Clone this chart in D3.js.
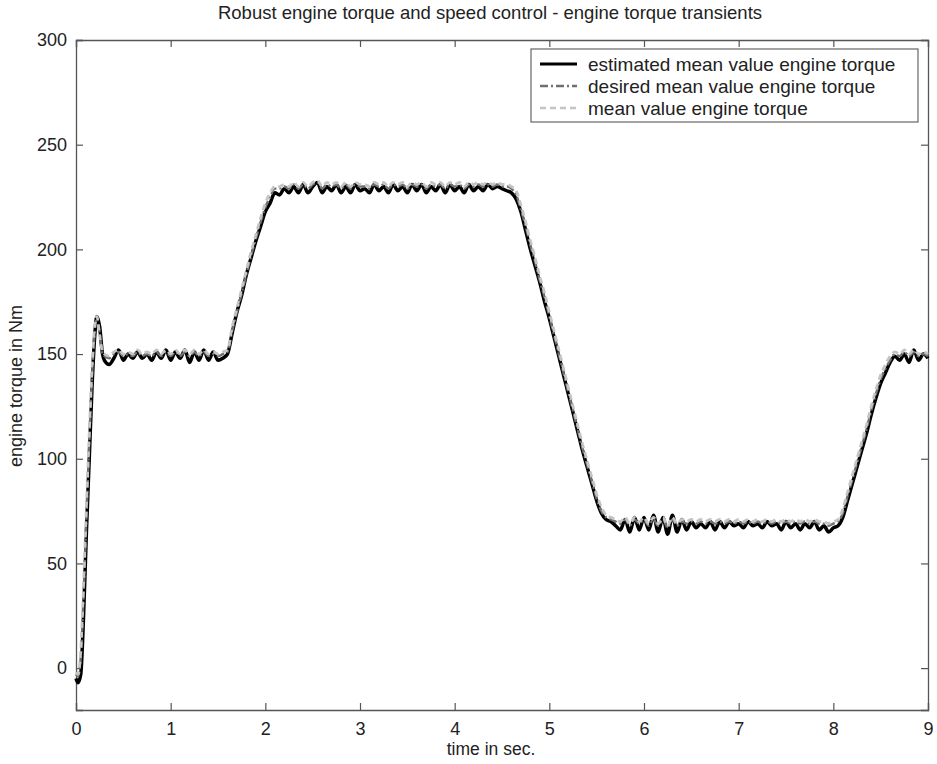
<!DOCTYPE html>
<html>
<head>
<meta charset="utf-8">
<script src="https://cdn.jsdelivr.net/npm/d3@7"></script>
<style>
  body { margin: 0; background: #fff; }
  svg text { font-family: "Liberation Sans", Arial, sans-serif; fill: #222; }
</style>
</head>
<body>
<div id="chart"></div>
<script>
// sample times (s)
var time = [0, 0.02, 0.05, 0.08, 0.11, 0.14, 0.17, 0.2, 0.22, 0.25, 0.28, 0.3, 0.35,
  0.4, 0.45, 0.5, 0.55, 0.6, 0.65, 0.7, 0.75, 0.8, 0.85, 0.9, 0.95,
  1, 1.05, 1.1, 1.15, 1.2, 1.25, 1.3, 1.35, 1.4, 1.45, 1.5, 1.55, 1.6, 1.65, 1.7, 1.75, 1.8, 1.85, 1.9, 1.95,
  2, 2.05, 2.1, 2.15, 2.2, 2.25, 2.3, 2.35, 2.4, 2.45, 2.5, 2.55, 2.6, 2.65, 2.7, 2.75, 2.8, 2.85, 2.9, 2.95,
  3, 3.05, 3.1, 3.15, 3.2, 3.25, 3.3, 3.35, 3.4, 3.45, 3.5, 3.55, 3.6, 3.65, 3.7, 3.75, 3.8, 3.85, 3.9, 3.95,
  4, 4.05, 4.1, 4.15, 4.2, 4.25, 4.3, 4.35, 4.4, 4.45, 4.5, 4.55, 4.6, 4.65, 4.7, 4.75, 4.8, 4.85, 4.9, 4.95,
  5, 5.05, 5.1, 5.15, 5.2, 5.25, 5.3, 5.35, 5.4, 5.45, 5.5, 5.55, 5.6, 5.65, 5.7, 5.75, 5.8, 5.85, 5.9, 5.95,
  6, 6.05, 6.1, 6.15, 6.2, 6.25, 6.3, 6.35, 6.4, 6.45, 6.5, 6.55, 6.6, 6.65, 6.7, 6.75, 6.8, 6.85, 6.9, 6.95,
  7, 7.05, 7.1, 7.15, 7.2, 7.25, 7.3, 7.35, 7.4, 7.45, 7.5, 7.55, 7.6, 7.65, 7.7, 7.75, 7.8, 7.85, 7.9, 7.95,
  8, 8.05, 8.1, 8.15, 8.2, 8.25, 8.3, 8.35, 8.4, 8.45, 8.5, 8.55, 8.6, 8.65, 8.7, 8.75, 8.8, 8.85, 8.9, 8.95,
  9];

// estimated mean value engine torque (Nm)
var estimated = [-5, -7, -3, 25, 65, 100, 135, 160, 168, 163, 150, 147, 145,
  148, 152, 147, 150, 148, 151, 148, 150, 147, 151, 148, 152,
  147, 151, 148, 152, 146, 151, 147, 152, 147, 151, 147, 148, 150, 160, 170, 178, 188, 196, 204, 211,
  218, 222, 227, 226, 229, 227, 230, 227, 231, 227, 230, 232, 227, 230, 228, 231, 227, 230, 227, 231,
  228, 229, 227, 231, 228, 230, 227, 231, 228, 230, 227, 231, 228, 231, 227, 230, 228, 231, 227, 231,
  228, 230, 227, 231, 228, 230, 228, 231, 229, 230, 229, 228, 227, 224, 218, 209, 200, 192, 184, 175,
  167, 158, 149, 140, 131, 122, 113, 104, 96, 88, 80, 74, 71, 70, 68, 66, 71, 65, 72, 66,
  72, 66, 73, 65, 72, 64, 73, 65, 71, 66, 70, 67, 69, 67, 70, 66, 70, 67, 70, 68,
  69, 67, 70, 68, 69, 67, 70, 68, 69, 66, 70, 67, 69, 66, 69, 67, 70, 66, 68, 65,
  67, 68, 72, 80, 88, 96, 104, 112, 121, 129, 136, 141, 146, 149, 147, 150, 146, 152, 147, 150,
  148];

// desired mean value engine torque (Nm)
var desired = [-3, -4, 5, 35, 72, 108, 140, 162, 167, 160, 150, 149, 148,
  150, 151, 149, 150, 149, 151, 149, 150, 149, 151, 149, 151,
  149, 151, 149, 151, 149, 151, 149, 151, 149, 150, 149, 150, 151, 161, 170, 179, 188, 197, 205, 213,
  220, 225, 229, 229, 230, 229, 231, 229, 231, 229, 231, 232, 229, 231, 230, 231, 229, 231, 229, 231,
  230, 230, 229, 231, 230, 231, 229, 231, 230, 231, 229, 231, 230, 231, 229, 231, 230, 231, 229, 231,
  230, 231, 229, 231, 230, 231, 230, 231, 230, 231, 230, 230, 229, 226, 219, 211, 202, 194, 185, 177,
  168, 159, 150, 141, 132, 123, 114, 105, 97, 89, 81, 75, 72, 71, 70, 69, 71, 68, 71, 69,
  71, 68, 71, 68, 71, 67, 71, 68, 70, 69, 70, 69, 70, 69, 70, 69, 70, 69, 70, 69,
  70, 69, 70, 69, 70, 69, 70, 69, 70, 69, 70, 69, 70, 69, 70, 69, 70, 69, 69, 68,
  69, 70, 74, 82, 90, 98, 106, 114, 123, 131, 138, 143, 147, 150, 149, 151, 149, 151, 149, 150,
  149];

// mean value engine torque (Nm)
var meanValue = [-2, -3, 8, 40, 77, 112, 144, 164, 168, 159, 151, 150, 149,
  151, 152, 150, 151, 150, 152, 150, 151, 150, 152, 150, 152,
  150, 152, 150, 152, 150, 152, 150, 152, 150, 151, 150, 151, 152, 163, 172, 181, 190, 199, 207, 215,
  222, 227, 230, 230, 231, 230, 232, 230, 232, 230, 232, 233, 230, 232, 231, 232, 230, 232, 230, 232,
  231, 231, 230, 232, 231, 232, 230, 232, 231, 232, 230, 232, 231, 232, 230, 232, 231, 232, 230, 232,
  231, 232, 230, 232, 231, 232, 231, 232, 231, 232, 231, 231, 230, 228, 221, 213, 204, 196, 187, 179,
  170, 161, 152, 143, 134, 125, 116, 107, 99, 91, 83, 77, 73, 72, 71, 70, 72, 69, 72, 70,
  72, 69, 72, 69, 72, 68, 72, 69, 71, 70, 71, 70, 71, 70, 71, 70, 71, 70, 71, 70,
  71, 70, 71, 70, 71, 70, 71, 70, 71, 70, 71, 70, 71, 70, 71, 70, 71, 70, 70, 69,
  70, 71, 76, 84, 92, 100, 108, 116, 125, 133, 140, 145, 149, 151, 150, 152, 150, 152, 150, 151,
  150];

var xTicks = [0, 1, 2, 3, 4, 5, 6, 7, 8, 9];
var yTicks = [0, 50, 100, 150, 200, 250, 300];

var seriesNames = ["estimated mean value engine torque", "desired mean value engine torque", "mean value engine torque"];

var W = 937, H = 764;
var margin = {top: 40, right: 9, bottom: 54, left: 76};
var width = W - margin.left - margin.right,
    height = H - margin.top - margin.bottom;

var svg = d3.select("#chart").append("svg")
    .attr("width", W)
    .attr("height", H);

var g = svg.append("g")
    .attr("transform", "translate(" + margin.left + "," + margin.top + ")");

var x = d3.scaleLinear().domain([0, 9]).range([0, width]);
var y = d3.scaleLinear().domain([-20, 300]).range([height, 0]);

// axes, matlab style box with inward ticks
var tickLen = 7;
var axisColor = "#555";

g.append("g")
    .attr("transform", "translate(0," + height + ")")
    .call(d3.axisBottom(x).tickValues(xTicks).tickSize(-tickLen).tickPadding(12).tickFormat(d3.format("d")))
    .call(styleAxis);
g.append("g")
    .call(d3.axisTop(x).tickValues(xTicks).tickSize(-tickLen).tickFormat(""))
    .call(styleAxis);
g.append("g")
    .call(d3.axisLeft(y).tickValues(yTicks).tickSize(-tickLen).tickPadding(9).tickFormat(d3.format("d")))
    .call(styleAxis);
g.append("g")
    .attr("transform", "translate(" + width + ",0)")
    .call(d3.axisRight(y).tickValues(yTicks).tickSize(-tickLen).tickFormat(""))
    .call(styleAxis);

function styleAxis(sel) {
    sel.select(".domain").attr("stroke", axisColor).attr("stroke-width", 1.3);
    sel.selectAll(".tick line").attr("stroke", axisColor).attr("stroke-width", 1.2);
    sel.selectAll(".tick text").style("font-size", "18px").attr("fill", "#222");
}

// lines
var rows = time.map(function(t, i) {
    return {t: t, est: estimated[i], des: desired[i], mean: meanValue[i]};
});

function lineFor(key) {
    return d3.line()
        .curve(d3.curveMonotoneX)
        .x(function(d) { return x(d.t); })
        .y(function(d) { return y(d[key]); });
}

var styles = [
    {key: "est", color: "#000", width: 3.5, dash: null},
    {key: "des", color: "#707070", width: 2.4, dash: "8,3,2,3"},
    {key: "mean", color: "#c4c4c4", width: 2.8, dash: "6,4"}
];

styles.forEach(function(s) {
    g.append("path")
        .datum(rows)
        .attr("fill", "none")
        .attr("stroke", s.color)
        .attr("stroke-width", s.width)
        .attr("stroke-dasharray", s.dash)
        .attr("stroke-linejoin", "round")
        .attr("d", lineFor(s.key));
});

// legend
var legend = svg.append("g").attr("transform", "translate(531,49)");
legend.append("rect")
    .attr("width", 387).attr("height", 73)
    .attr("fill", "#fff")
    .attr("stroke", "#666").attr("stroke-width", 1.2);

seriesNames.forEach(function(name, i) {
    var row = legend.append("g").attr("transform", "translate(0," + (15 + i * 22) + ")");
    row.append("line")
        .attr("x1", 9).attr("x2", 46)
        .attr("stroke", styles[i].color)
        .attr("stroke-width", i == 0 ? 3 : 2.4)
        .attr("stroke-dasharray", styles[i].dash);
    row.append("text")
        .attr("x", 57).attr("dy", "0.35em")
        .style("font-size", "19px")
        .text(name);
});

// titles
svg.append("text")
    .attr("x", 490).attr("y", 19)
    .attr("text-anchor", "middle")
    .style("font-size", "18.5px")
    .text("Robust engine torque and speed control - engine torque transients");

svg.append("text")
    .attr("x", 491).attr("y", 755)
    .attr("text-anchor", "middle")
    .style("font-size", "17.5px")
    .text("time in sec.");

svg.append("text")
    .attr("transform", "translate(22,386) rotate(-90)")
    .attr("text-anchor", "middle")
    .style("font-size", "18px")
    .text("engine torque in Nm");
</script>
</body>
</html>
